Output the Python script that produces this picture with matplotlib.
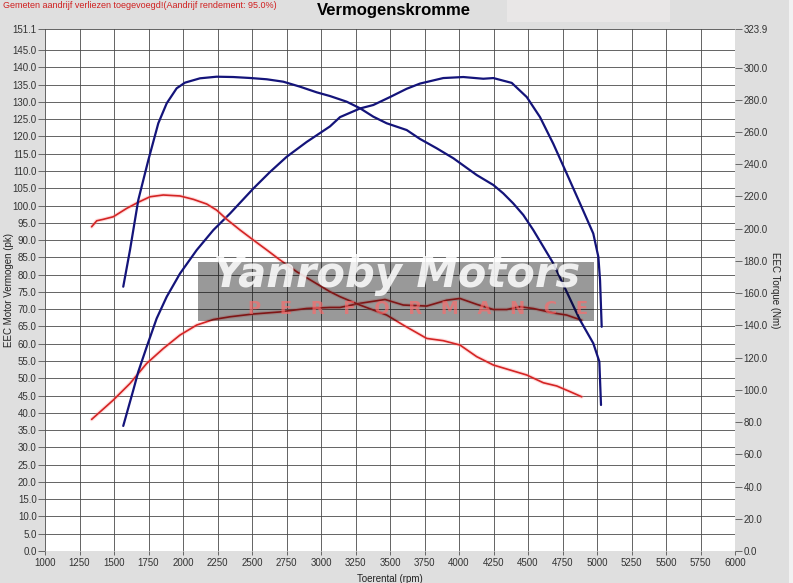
import numpy as np
import matplotlib
matplotlib.use("Agg")
import matplotlib.pyplot as plt
from matplotlib.patches import Rectangle

plt.rcParams['font.family'] = ['Liberation Sans', 'DejaVu Sans']

# ---- data ----
blue_torque_rpm = [1567, 1616, 1676, 1749, 1821, 1882, 1954, 2014, 2123, 2244, 2364, 2486,
                   2607, 2727, 2848, 2969, 3065, 3186, 3283, 3379, 3476, 3621, 3717, 3838,
                   3959, 4128, 4249, 4321, 4393, 4466, 4538, 4611, 4683, 4780, 4877, 4973,
                   5017, 5022, 5029]
blue_torque_nm = [164.0, 186.8, 217.8, 242.6, 265.4, 277.8, 287.1, 290.6, 293.3, 294.3, 294.1,
                  293.5, 292.7, 291.2, 288.1, 284.6, 282.3, 278.8, 274.7, 269.5, 265.4, 261.2,
                  255.7, 249.9, 243.7, 233.3, 227.1, 221.9, 215.7, 208.5, 199.2, 188.8, 178.5,
                  160.9, 143.3, 128.9, 117.5, 106.1, 90.6]

blue_power_rpm = [1567, 1640, 1676, 1737, 1809, 1882, 1978, 2099, 2220, 2341, 2509, 2630,
                  2751, 2896, 3065, 3138, 3283, 3379, 3500, 3621, 3717, 3886, 4031, 4176,
                  4249, 4382, 4491, 4587, 4683, 4780, 4877, 4973, 5010, 5022, 5034]
blue_power_pk = [36.2, 46.6, 51.9, 59.1, 67.3, 73.6, 80.3, 87.1, 92.9, 97.7, 104.9, 109.7,
                 114.1, 118.4, 122.9, 125.6, 128.1, 129.1, 131.4, 133.8, 135.3, 136.9, 137.2,
                 136.7, 136.9, 135.5, 131.4, 125.6, 117.9, 109.3, 100.6, 91.9, 85.1, 78.4, 64.9]

red_torque_rpm = [1338, 1375, 1422, 1495, 1592, 1676, 1761, 1857, 1978, 2075, 2172, 2244,
                  2317, 2413, 2509, 2607, 2703, 2824, 2944, 3065, 3138, 3283, 3476, 3596,
                  3766, 3886, 4007, 4128, 4249, 4370, 4491, 4611, 4708, 4804, 4889]
red_torque_nm = [201.2, 204.9, 205.8, 207.4, 212.6, 216.4, 219.8, 220.9, 220.3, 218.2, 215.3,
                 211.5, 205.8, 199.2, 193.0, 186.8, 180.6, 173.3, 167.1, 160.9, 157.8, 152.6,
                 146.4, 140.2, 131.9, 130.5, 127.8, 120.6, 115.4, 112.3, 109.2, 104.4, 102.4,
                 98.9, 95.7]

red_power_rpm = [1338, 1495, 1616, 1737, 1857, 1978, 2099, 2220, 2341, 2509, 2703, 2896,
                 3065, 3138, 3283, 3464, 3596, 3766, 3911, 4007, 4128, 4249, 4346, 4442,
                 4538, 4683, 4780, 4889]
red_power_pk = [38.1, 43.7, 48.5, 54.3, 58.6, 62.5, 65.4, 67.0, 67.8, 68.6, 69.2, 70.2,
                70.5, 70.5, 71.7, 72.8, 71.2, 70.9, 72.6, 73.1, 71.4, 69.9, 69.9, 70.7,
                70.2, 68.9, 68.3, 66.8]

x_ticks = list(range(1000, 6001, 250))
left_ticks = [float(v) for v in range(0, 146, 5)] + [151.1]
right_ticks = [float(v) for v in range(0, 301, 20)] + [323.9]

title = "Vermogenskromme"
note = "Gemeten aandrijf verliezen toegevoegd!(Aandrijf rendement: 95.0%)"

# ---- figure ----
W, H = 793, 583
fig = plt.figure(figsize=(W / 100, H / 100), dpi=100, facecolor='#dfdfdf')
fig.patches.append(Rectangle((507 / W, 1 - 22 / H), 163 / W, 22 / H,
                             transform=fig.transFigure, facecolor='#e9e7e7',
                             edgecolor='none', zorder=0))
fig.patches.append(Rectangle((789 / W, 0), 4 / W, 1, transform=fig.transFigure,
                             facecolor='#f2f2f2', edgecolor='none', zorder=0))

ax = fig.add_axes([45 / W, 32 / H, 690 / W, 522 / H])
ax.set_facecolor('white')
ax.set_xlim(1000, 6000)
ax.set_ylim(0, 151.1)
ax.set_xticks(x_ticks)
ax.set_xticklabels([str(v) for v in x_ticks])
ax.set_yticks(left_ticks)
ax.set_yticklabels([f"{v:.1f}" for v in left_ticks])
ax.grid(True, color='#4a4a4a', lw=0.6)
ax.set_axisbelow(True)
for s in ax.spines.values():
    s.set_visible(False)
ax.tick_params(axis='y', length=5, width=0.6, color='#555555', labelsize=7,
               labelcolor='#333333', pad=1)
ax.tick_params(axis='x', length=3, width=0.6, color='#555555', labelsize=7,
               labelcolor='#333333', pad=2)
ax.set_xlabel("Toerental (rpm)", fontsize=7, color='#222222', labelpad=4)

ax2 = ax.twinx()
ax2.set_ylim(0, 323.9)
ax2.set_yticks(right_ticks)
ax2.set_yticklabels([f"{v:.1f}" for v in right_ticks])
for s in ax2.spines.values():
    s.set_visible(False)
ax2.tick_params(axis='y', length=5, width=0.6, color='#555555', labelsize=7,
                labelcolor='#333333', pad=1)

fig.text(9 / W, 1 - 290 / H, "EEC Motor Vermogen (pk)", rotation=90, ha='center',
         va='center', fontsize=7, color='#222222')
fig.text(775 / W, 1 - 290 / H, "EEC Torque (Nm)", rotation=-90, ha='center',
         va='center', fontsize=7, color='#222222')

navy = '#14147a'
red = '#d42424'
kw = dict(solid_joinstyle='round', solid_capstyle='round')

ax2.plot(red_torque_rpm, red_torque_nm, color='#ff9a9a', lw=2.8, alpha=0.35, zorder=2, **kw)
ax2.plot(red_torque_rpm, red_torque_nm, color=red, lw=1.2, zorder=3, **kw)
ax.plot(red_power_rpm, red_power_pk, color='#ff9a9a', lw=2.8, alpha=0.35, zorder=2, **kw)
ax.plot(red_power_rpm, red_power_pk, color=red, lw=1.2, zorder=3, **kw)
ax.plot(blue_power_rpm, blue_power_pk, color=navy, lw=1.6, zorder=4, **kw)
ax2.plot(blue_torque_rpm, blue_torque_nm, color=navy, lw=1.6, zorder=4, **kw)

# watermark
x0, x1 = (198 - 45) / 690, (594 - 45) / 690
y0, y1 = (551 - 321) / 522, (551 - 262) / 522
ax2.add_patch(Rectangle((x0, y0), x1 - x0, y1 - y0, transform=ax2.transAxes,
                        facecolor='black', alpha=0.40, edgecolor='none', zorder=10))
ax2.text((397 - 45) / 690, (551 - 275) / 522, "Yanroby Motors", transform=ax2.transAxes,
         ha='center', va='center', fontsize=30, fontweight='bold', fontstyle='italic',
         family=['DejaVu Sans'], color='white', alpha=0.85, zorder=11)
ax2.text((418 - 45) / 690, (551 - 309) / 522, "P   E   R   F   O   R   M   A   N   C   E",
         transform=ax2.transAxes, ha='center', va='center', fontsize=13, fontweight='bold',
         family=['DejaVu Sans'], color='#ff6a6a', alpha=0.65, zorder=11)

fig.text(3 / W, 1 - 6 / H, note, ha='left', va='center', fontsize=6.5, color='#d02020')
fig.text(394 / W, 1 - 10 / H, title, ha='center', va='center', fontsize=12,
         fontweight='bold', color='black')

fig.savefig("out.png", dpi=100, facecolor=fig.get_facecolor())
